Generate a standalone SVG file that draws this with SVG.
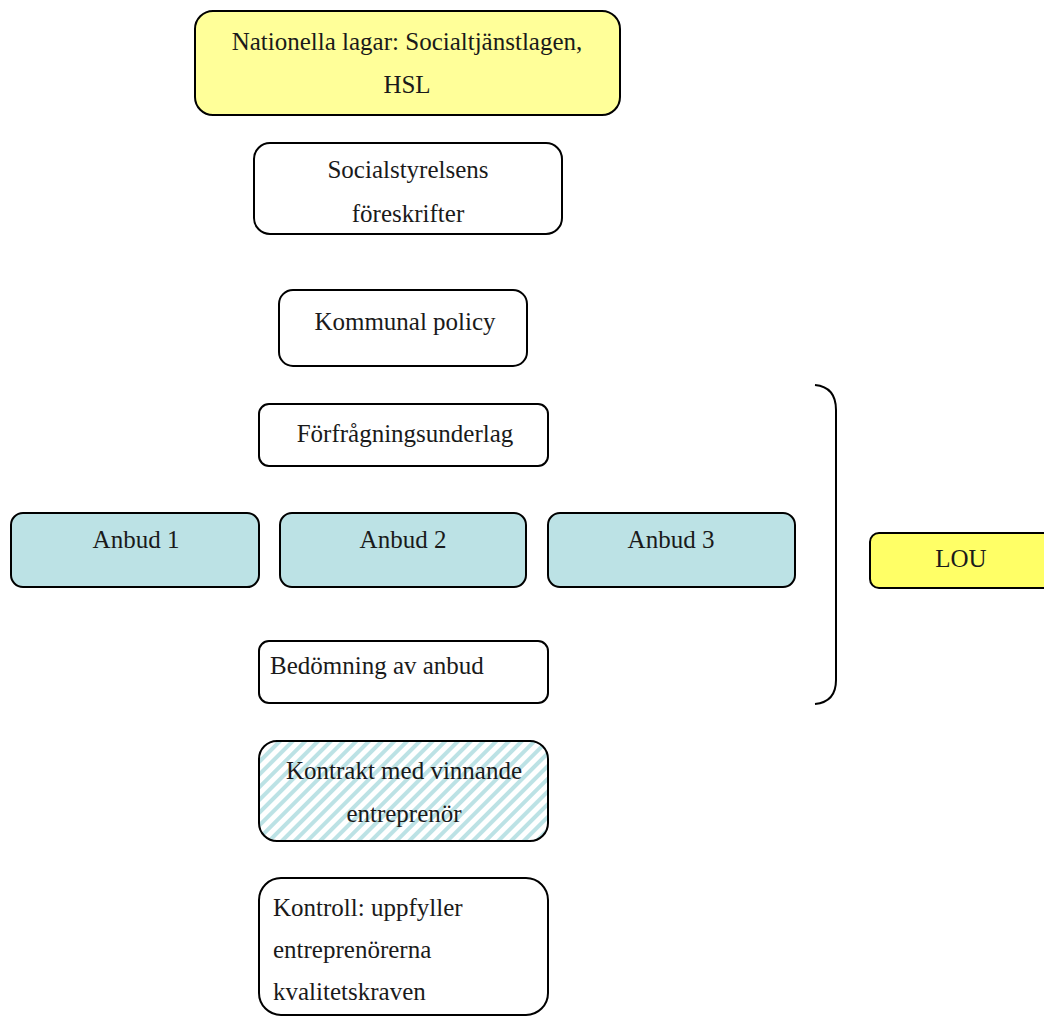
<svg xmlns="http://www.w3.org/2000/svg" width="1044" height="1019" viewBox="0 0 1044 1019">
<defs>
<pattern id="stripes" patternUnits="userSpaceOnUse" width="9" height="9" patternTransform="rotate(45)">
<rect width="9" height="9" fill="#ffffff"/>
<rect x="0" y="0" width="4" height="9" fill="#bce2e5"/>
</pattern>
</defs>
<style>
.box{stroke:#000;stroke-width:2}
.w{fill:#fff}
.y{fill:#ffff99}
.b{fill:#bce2e5}
.ly{fill:#ffff66}
text{font-family:"Liberation Serif","Times New Roman",serif;font-size:25px;fill:#1a1a1a}
.c{text-anchor:middle}
</style>
<rect width="1044" height="1019" fill="#fff"/>
<g id="nationella">
<rect class="box y" x="195" y="11" width="425" height="104" rx="18"/>
<text class="c" x="407" y="50">Nationella lagar: Socialtjänstlagen,</text>
<text class="c" x="407" y="93">HSL</text>
</g>
<g id="socialstyrelsen">
<rect class="box w" x="254" y="143" width="308" height="91" rx="16"/>
<text class="c" x="408" y="178">Socialstyrelsens</text>
<text class="c" x="408" y="222">föreskrifter</text>
</g>
<g id="kommunal">
<rect class="box w" x="279" y="290" width="248" height="76" rx="14"/>
<text class="c" x="405" y="330">Kommunal policy</text>
</g>
<g id="forfragning">
<rect class="box w" x="259" y="404" width="289" height="62" rx="10"/>
<text class="c" x="405" y="442">Förfrågningsunderlag</text>
</g>
<g id="anbud1">
<rect class="box b" x="11" y="513" width="248" height="74" rx="12"/>
<text class="c" x="136" y="548">Anbud 1</text>
</g>
<g id="anbud2">
<rect class="box b" x="280" y="513" width="246" height="74" rx="12"/>
<text class="c" x="403" y="548">Anbud 2</text>
</g>
<g id="anbud3">
<rect class="box b" x="548" y="513" width="247" height="74" rx="12"/>
<text class="c" x="671" y="548">Anbud 3</text>
</g>
<g id="lou">
<rect class="box ly" x="870" y="533" width="190" height="55" rx="9"/>
<text class="c" x="961" y="567">LOU</text>
</g>
<g id="bedomning">
<rect class="box w" x="259" y="641" width="289" height="62" rx="10"/>
<text x="270" y="674">Bedömning av anbud</text>
</g>
<g id="kontrakt">
<rect class="box" fill="url(#stripes)" x="259" y="741" width="289" height="100" rx="18"/>
<text class="c" x="404" y="779">Kontrakt med vinnande</text>
<text class="c" x="404" y="822">entreprenör</text>
</g>
<g id="kontroll">
<rect class="box w" x="259" y="878" width="289" height="137" rx="22"/>
<text x="273" y="916">Kontroll: uppfyller</text>
<text x="273" y="958">entreprenörerna</text>
<text x="273" y="1000">kvalitetskraven</text>
</g>
<g id="connectors">
<path d="M815,385 Q836,387 836,410 L836,680 Q836,702 815,704" fill="none" stroke="#000" stroke-width="2"/>
</g>
</svg>
